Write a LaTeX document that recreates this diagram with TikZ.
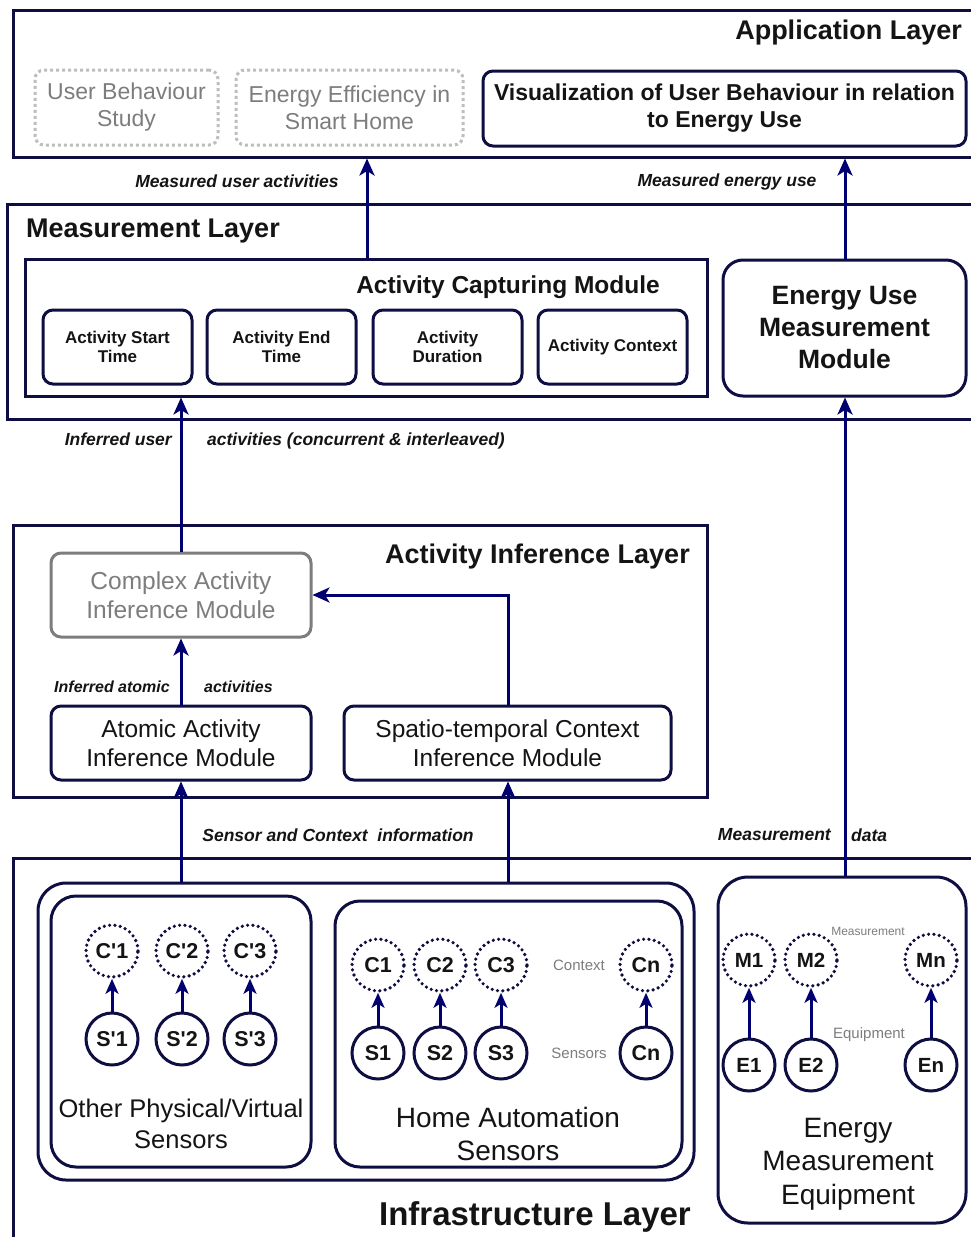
\documentclass[tikz,border=0pt]{standalone}
\usepackage{fontspec}
\setmainfont{Liberation Sans}[Ligatures=TeXOff]
\usetikzlibrary{arrows.meta,calc}

\definecolor{edge}{RGB}{14,14,66}
\definecolor{flow}{RGB}{0,0,112}
\definecolor{muted}{RGB}{125,125,125}
\definecolor{softgray}{RGB}{190,190,190}
\definecolor{ink}{RGB}{20,20,20}

\newcommand{\fs}[2]{\fontsize{#1}{#2}\selectfont}

\tikzset{
  x=1pt, y=-1pt,
  layerbox/.style={draw=edge, line width=3pt, inner sep=0pt},
  modbox/.style={draw=edge, line width=3pt, rounded corners=10pt, align=center, inner sep=0pt, text=ink},
  ghostbox/.style={draw=softgray, line width=3pt, dash pattern=on 3pt off 3pt,
                   rounded corners=9pt, align=center, inner sep=0pt, text=muted},
  greybox/.style={draw=muted, line width=3pt, rounded corners=10pt, align=center, inner sep=0pt, text=muted},
  groupbox/.style={draw=edge, line width=3pt, rounded corners=28pt, inner sep=0pt},
  sensor/.style={draw=edge, line width=3pt, circle, minimum size=52pt, inner sep=0pt,
                 font=\bfseries\fs{21.5}{21.5}, text=ink},
  ctx/.style={sensor, line width=3.6pt, dash pattern=on 0pt off 5.4pt, line cap=round},
  flowarrow/.style={draw=flow, line width=3pt, -{Stealth[length=17pt,width=15pt,inset=4.5pt]}},
  smallarrow/.style={draw=flow, line width=3pt, -{Stealth[length=15pt,width=13pt,inset=4pt]}},
  flowlabel/.style={font=\bfseries\itshape\fs{17.5}{17.5}, text=ink, inner sep=0pt},
  layertitle/.style={font=\bfseries\fs{27}{27}, text=ink, inner sep=0pt},
  tinylabel/.style={text=muted, inner sep=0pt},
}

\begin{document}
\begin{tikzpicture}
\useasboundingbox (0,0) rectangle (971,1237);
\clip (0,0) rectangle (971,1237);
\fill[white] (0,0) rectangle (971,1237);

% ---------------- Application layer ----------------
\node[layerbox, minimum width=962pt, minimum height=147pt] (app) at (494,83.5) {};
\node[layertitle, anchor=east] (apptitle) at (962,33) {Application Layer};
\node[ghostbox, minimum width=183pt, minimum height=75pt, font=\fs{23}{27}] (ubs) at (126.5,107.5)
  {User Behaviour\\Study};
\node[ghostbox, minimum width=227pt, minimum height=75pt, font=\fs{23}{27}] (eesh) at (349.5,107.5)
  {Energy Efficiency in\\Smart Home};
\node[modbox, minimum width=483pt, minimum height=75pt, font=\bfseries\fs{23}{27}] (vis) at (724.5,108.5)
  {Visualization of User Behaviour in relation\\to Energy Use};

% ---------------- Measurement layer ----------------
\node[layerbox, minimum width=968pt, minimum height=215pt] (meas) at (491,311.5) {};
\node[layertitle, anchor=west] (meastitle) at (26,231) {Measurement Layer};
\node[layerbox, minimum width=682pt, minimum height=137pt] (capture) at (366,327.5) {};
\node[font=\bfseries\fs{24.5}{25}, text=ink, inner sep=0pt, anchor=east] (capturetitle) at (660,287)
  {Activity Capturing Module};
\foreach \nm/\cx/\txt in {start/117.5/{Activity Start\\Time}, stop/281.5/{Activity End\\Time},
                          dur/447.5/{Activity\\Duration}, actx/612.5/{Activity Context}}
  \node[modbox, minimum width=149pt, minimum height=74pt, font=\bfseries\fs{17}{19.5}] (\nm) at (\cx,347) {\txt};
\node[modbox, rounded corners=20pt, minimum width=243pt, minimum height=136pt, font=\bfseries\fs{26.5}{32}] (energy)
  at (844.5,328) {Energy Use\\Measurement\\Module};

% ---------------- Activity inference layer ----------------
\node[layerbox, minimum width=694pt, minimum height=272pt] (infer) at (360,661) {};
\node[layertitle, anchor=east] (infertitle) at (690,557) {Activity Inference Layer};
\node[greybox, minimum width=260pt, minimum height=84pt, font=\fs{24.5}{29}] (complex) at (181,595)
  {Complex Activity\\Inference Module};
\node[modbox, minimum width=260pt, minimum height=74pt, font=\fs{24.5}{29}] (atomic) at (181,743)
  {Atomic Activity\\Inference Module};
\node[modbox, minimum width=327pt, minimum height=74pt, font=\fs{24.5}{29}] (spatio) at (507.5,743)
  {Spatio-temporal Context\\Inference Module};

% ---------------- Infrastructure layer ----------------
\node[layerbox, minimum width=967pt, minimum height=392pt] (infra) at (496.5,1054) {};
\node[font=\bfseries\fs{33}{33}, text=ink, inner sep=0pt] (infratitle) at (535,1217) {Infrastructure Layer};
\node[groupbox, minimum width=656pt, minimum height=297pt] (sensors) at (366,1031.5) {};
\node[groupbox, rounded corners=25pt, minimum width=260pt, minimum height=271pt] (other) at (181,1031.5) {};
\node[groupbox, rounded corners=25pt, minimum width=347pt, minimum height=266pt] (home) at (508.5,1034) {};
\node[groupbox, rounded corners=30pt, minimum width=248pt, minimum height=346pt] (equip) at (842,1050) {};

\node[align=center, font=\fs{25.5}{31}, text=ink, inner sep=0pt] (othertxt) at (181,1124)
  {Other Physical/Virtual\\Sensors};
\node[align=center, font=\fs{28}{33}, text=ink, inner sep=0pt] (hometxt) at (508,1134)
  {Home Automation\\Sensors};
\node[align=center, font=\fs{28}{33.5}, text=ink, inner sep=0pt] (equiptxt) at (848,1164)
  {Energy\\Measurement\\Equipment};

% other physical / virtual sensors
\foreach \i/\cx in {1/112, 2/182, 3/250}{
  \node[ctx] (oc\i) at (\cx,951) {C'\i};
  \node[sensor] (os\i) at (\cx,1039) {S'\i};
  \draw[smallarrow] (os\i) -- (oc\i);
}
% home automation sensors
\foreach \i/\cx/\lbl in {1/378/S1, 2/440/S2, 3/501/S3, n/646/Cn}{
  \node[ctx] (hc\i) at (\cx,965) {C\i};
  \node[sensor] (hs\i) at (\cx,1053) {\lbl};
  \draw[smallarrow] (hs\i) -- (hc\i);
}
\node[tinylabel, font=\fs{15}{15}] (ctxlbl) at (579,965) {Context};
\node[tinylabel, font=\fs{15}{15}] (senslbl) at (579,1053) {Sensors};

% energy measurement equipment
\foreach \i/\cx in {1/749, 2/811, n/931}{
  \node[ctx, font=\bfseries\fs{20.5}{20.5}] (em\i) at (\cx,960) {M\i};
  \node[sensor, font=\bfseries\fs{20.5}{20.5}] (ee\i) at (\cx,1065) {E\i};
  \draw[smallarrow] (ee\i) -- (em\i);
}
\node[tinylabel, font=\fs{12}{12}] (mlbl) at (868,931) {Measurement};
\node[tinylabel, font=\fs{15}{15}] (elbl) at (869,1035) {Equipment};

% ---------------- connectors between layers ----------------
\coordinate (colA) at (367,0);
\coordinate (colB) at (845,0);
\coordinate (colC) at (181,0);
\coordinate (colD) at (508,0);

\draw[flowarrow] (capture.north -| colA) -- (app.south -| colA);
\draw[flowarrow] (energy.north -| colB) -- (app.south -| colB);
\draw[flowarrow] (complex.north) -- (capture.south -| colC);
\draw[flowarrow] (equip.north -| colB) -- (energy.south -| colB);
\draw[flowarrow] (atomic.north) -- (complex.south);
\draw[flowarrow] (spatio.north -| colD) |- (complex.east);
\draw[flowarrow] (sensors.north -| colC) -- (atomic.south);
\draw[flowarrow] (sensors.north -| colD) -- (spatio.south -| colD);

% connector labels
\node[flowlabel] (l1) at (237,181) {Measured user activities};
\node[flowlabel] (l2) at (727,182) {Measured energy use};
\node[flowlabel, anchor=east] (l3a) at (172,439) {Inferred user};
\node[flowlabel, anchor=west] (l3b) at (207,441) {activities (concurrent \& interleaved)};
\node[flowlabel, font=\bfseries\itshape\fs{16}{16}, anchor=east] (l4a) at (170,687) {Inferred atomic};
\node[flowlabel, font=\bfseries\itshape\fs{16}{16}, anchor=west] (l4b) at (204,687) {activities};
\node[flowlabel] (l5) at (338,835) {Sensor and Context\ \ information};
\node[flowlabel, anchor=east] (l6a) at (831,835) {Measurement};
\node[flowlabel, anchor=west] (l6b) at (851,835) {data};
\end{tikzpicture}
\end{document}
